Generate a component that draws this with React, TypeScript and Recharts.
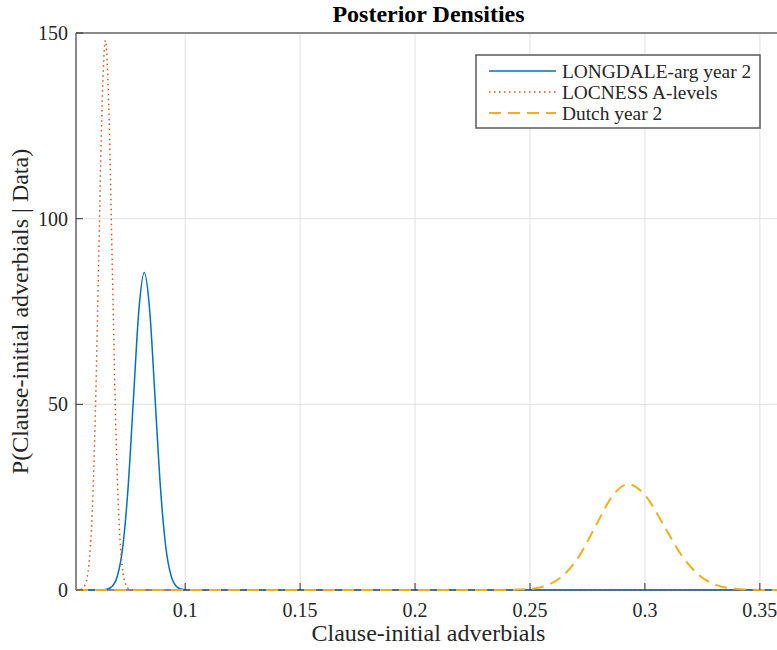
import React from 'react';
import { LineChart, Line, XAxis, YAxis, CartesianGrid } from 'recharts';

// Axis setup
const xDomain = [0.0525, 0.3592];
const yDomain = [0, 150];
const xTicks = [0.1, 0.15, 0.2, 0.25, 0.3, 0.35];
const yTicks = [0, 50, 100, 150];

// LONGDALE-arg year 2 posterior density
const longdaleX = [0.06348, 0.06582, 0.06816, 0.0705, 0.07284, 0.07518, 0.07752, 0.07986, 0.0822, 0.08454, 0.08688, 0.08922, 0.09156, 0.0939, 0.09624, 0.09858, 0.10092];
const longdaleY = [0.03, 0.19, 0.95, 3.76, 11.57, 27.76, 51.86, 75.45, 85.5, 75.45, 51.86, 27.76, 11.57, 3.76, 0.95, 0.19, 0.03];

// LOCNESS A-levels posterior density
const locnessX = [0.0537, 0.05515, 0.0566, 0.05805, 0.0595, 0.06095, 0.0624, 0.06385, 0.0653, 0.06675, 0.0682, 0.06965, 0.0711, 0.07255, 0.074, 0.07545, 0.0769];
const locnessY = [0.05, 0.32, 1.64, 6.5, 20.03, 48.06, 89.76, 130.6, 148, 130.6, 89.76, 48.06, 20.03, 6.5, 1.64, 0.32, 0.05];

// Dutch year 2 posterior density
const dutchX = [0.236, 0.2431, 0.2502, 0.2573, 0.2644, 0.2715, 0.2786, 0.2857, 0.2928, 0.30055, 0.3083, 0.31605, 0.3238, 0.33155, 0.3393, 0.34705, 0.3548];
const dutchY = [0.01, 0.06, 0.32, 1.25, 3.86, 9.25, 17.29, 25.15, 28.5, 25.15, 17.29, 9.25, 3.86, 1.25, 0.32, 0.06, 0.01];

// Each density is zero outside its support, across the whole plotted range
const toSeries = (xs: number[], ys: number[]) => [
  { x: xDomain[0], y: 0 },
  ...xs.map((x, i) => ({ x, y: ys[i] })),
  { x: xDomain[1], y: 0 },
];

const series = [
  { name: 'LONGDALE-arg year 2', data: toSeries(longdaleX, longdaleY), color: '#0072BD', dash: undefined as string | undefined, width: 1.5 },
  { name: 'LOCNESS A-levels', data: toSeries(locnessX, locnessY), color: '#D95319', dash: '1.5 3.5', width: 1.5 },
  { name: 'Dutch year 2', data: toSeries(dutchX, dutchY), color: '#EDB120', dash: '12 7', width: 2 },
];

const FONT = '"Liberation Serif", "Times New Roman", serif';
const TEXT = '#262626';
const AXIS = '#8a8a8a';
const TICK = '#333333';

const emptyTick = () => <g />;

// Box edges of the plot area, taken from the chart's own layout offset
const frameRows = ({ offset }: any) => [offset.top, offset.top + offset.height];
const frameCols = ({ offset }: any) => [offset.left, offset.left + offset.width];

function LegendBox() {
  return (
    <svg width={286} height={75} style={{ position: 'absolute', left: 475, top: 54 }}>
      <rect x={1} y={1} width={284} height={73} fill="#ffffff" stroke="#5a5a5a" strokeWidth={1.5} />
      {series.map((s, i) => {
        const cy = 17 + i * 21;
        return (
          <g key={s.name}>
            <line x1={14} x2={81} y1={cy} y2={cy} stroke={s.color} strokeWidth={s.width} strokeDasharray={s.dash} />
            <text x={87} y={cy} dominantBaseline="central" fontFamily={FONT} fontSize={19.4} fill={TEXT}>
              {s.name}
            </text>
          </g>
        );
      })}
    </svg>
  );
}

export default function App() {
  return (
    <div style={{ position: 'absolute', left: 0, top: 0, width: 777, height: 650, overflow: 'hidden', background: '#fff' }}>
      <LineChart width={782} height={650} margin={{ top: 32, right: 0, bottom: 0, left: 0 }}>
        <CartesianGrid stroke="#e0e0e0" strokeWidth={1} />
        <CartesianGrid
          stroke={AXIS}
          strokeWidth={2}
          horizontalCoordinatesGenerator={frameRows}
          verticalCoordinatesGenerator={frameCols}
        />
        <XAxis
          dataKey="x"
          type="number"
          domain={xDomain}
          ticks={xTicks}
          height={60}
          tickSize={-7}
          tickMargin={20}
          tickLine={{ stroke: TICK }}
          axisLine={false}
          tick={{ fill: TEXT, fontFamily: FONT, fontSize: 20 }}
          label={{ value: 'Clause-initial adverbials', position: 'insideBottom', offset: 9, fill: TEXT, fontFamily: FONT, fontSize: 24 }}
        />
        <XAxis
          xAxisId="top"
          orientation="top"
          type="number"
          domain={xDomain}
          ticks={xTicks}
          height={1}
          tickSize={-7}
          tickLine={{ stroke: TICK }}
          axisLine={false}
          tick={emptyTick}
          label={{ value: 'Posterior Densities', position: 'top', offset: 10, fill: '#000', fontFamily: FONT, fontSize: 24, fontWeight: 'bold' }}
        />
        <YAxis
          type="number"
          domain={yDomain}
          ticks={yTicks}
          width={76}
          tickSize={-7}
          tickMargin={15}
          tickLine={{ stroke: TICK }}
          axisLine={false}
          tick={{ fill: TEXT, fontFamily: FONT, fontSize: 20 }}
          label={{ value: 'P(Clause-initial adverbials | Data)', angle: -90, position: 'insideLeft', offset: 19, fill: TEXT, fontFamily: FONT, fontSize: 24, style: { textAnchor: 'middle' } }}
        />
        <YAxis
          yAxisId="right"
          orientation="right"
          type="number"
          domain={yDomain}
          ticks={yTicks}
          width={1}
          tickSize={-7}
          tickLine={{ stroke: TICK }}
          axisLine={false}
          tick={emptyTick}
        />
        {series.map((s) => (
          <Line
            key={s.name}
            data={s.data}
            dataKey="y"
            name={s.name}
            type="monotone"
            stroke={s.color}
            strokeWidth={s.width}
            strokeDasharray={s.dash}
            dot={false}
            activeDot={false}
            isAnimationActive={false}
          />
        ))}
      </LineChart>
      <LegendBox />
    </div>
  );
}
